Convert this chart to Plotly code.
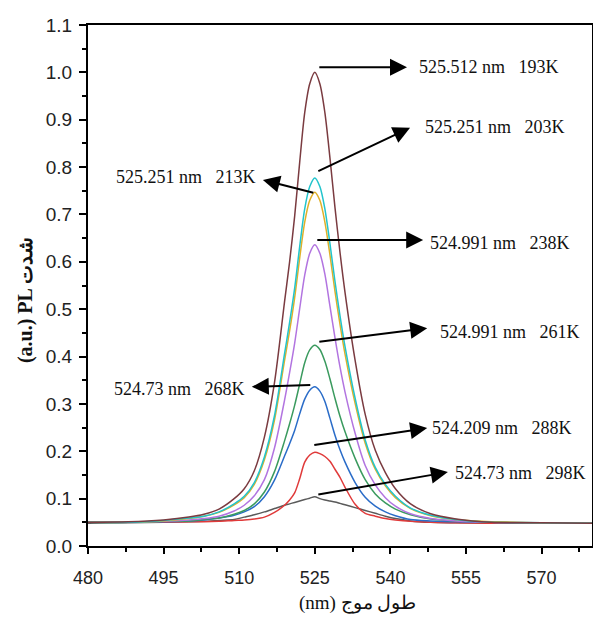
import plotly.graph_objects as go

# ---------------- data ----------------
wavelength = [480, 488, 495, 500, 503, 506, 509, 511, 513, 515, 517, 519, 520, 521, 522, 523, 524, 525,
              526, 527, 528, 529, 530, 531, 533, 535, 537, 539, 541, 544, 548, 553, 560, 570, 580]

pl_193K = [0.050, 0.051, 0.055, 0.061, 0.067, 0.078, 0.100, 0.121, 0.159, 0.230, 0.345, 0.516, 0.600, 0.696, 0.810, 0.915, 0.976, 1.000,
           0.976, 0.915, 0.820, 0.715, 0.620, 0.535, 0.392, 0.278, 0.202, 0.155, 0.121, 0.089, 0.068, 0.057, 0.050, 0.049, 0.048]
pl_203K = [0.050, 0.050, 0.054, 0.059, 0.063, 0.072, 0.089, 0.105, 0.134, 0.188, 0.275, 0.406, 0.472, 0.544, 0.632, 0.712, 0.759, 0.777,
           0.759, 0.712, 0.639, 0.559, 0.486, 0.421, 0.312, 0.224, 0.166, 0.130, 0.105, 0.080, 0.065, 0.056, 0.050, 0.049, 0.048]
pl_213K = [0.050, 0.050, 0.053, 0.058, 0.063, 0.071, 0.087, 0.102, 0.130, 0.182, 0.266, 0.392, 0.454, 0.524, 0.608, 0.684, 0.730, 0.747,
           0.730, 0.684, 0.615, 0.538, 0.468, 0.405, 0.301, 0.217, 0.162, 0.127, 0.102, 0.079, 0.064, 0.056, 0.051, 0.049, 0.048]
pl_238K = [0.050, 0.050, 0.052, 0.055, 0.058, 0.063, 0.074, 0.086, 0.106, 0.140, 0.207, 0.308, 0.366, 0.428, 0.501, 0.572, 0.618, 0.636,
           0.618, 0.574, 0.507, 0.440, 0.378, 0.325, 0.238, 0.170, 0.129, 0.102, 0.084, 0.068, 0.058, 0.053, 0.050, 0.049, 0.048]
pl_261K = [0.050, 0.050, 0.052, 0.053, 0.056, 0.059, 0.067, 0.075, 0.089, 0.114, 0.157, 0.222, 0.258, 0.297, 0.342, 0.387, 0.414, 0.424,
           0.415, 0.390, 0.353, 0.312, 0.274, 0.241, 0.185, 0.140, 0.110, 0.091, 0.078, 0.066, 0.057, 0.053, 0.051, 0.049, 0.048]
pl_268K = [0.050, 0.050, 0.051, 0.053, 0.055, 0.059, 0.065, 0.072, 0.083, 0.104, 0.139, 0.190, 0.216, 0.244, 0.279, 0.310, 0.329, 0.336,
           0.327, 0.305, 0.270, 0.234, 0.203, 0.177, 0.134, 0.103, 0.084, 0.072, 0.064, 0.056, 0.053, 0.051, 0.050, 0.049, 0.048]
pl_288K = [0.050, 0.050, 0.050, 0.051, 0.051, 0.052, 0.054, 0.055, 0.057, 0.061, 0.071, 0.086, 0.097, 0.112, 0.142, 0.177, 0.192, 0.198,
           0.195, 0.189, 0.179, 0.162, 0.145, 0.124, 0.088, 0.069, 0.063, 0.058, 0.055, 0.052, 0.050, 0.049, 0.048, 0.048, 0.048]
pl_298K = [0.048, 0.049, 0.050, 0.051, 0.052, 0.054, 0.056, 0.061, 0.066, 0.072, 0.079, 0.086, 0.089, 0.092, 0.095, 0.098, 0.101, 0.104,
           0.100, 0.097, 0.095, 0.093, 0.090, 0.087, 0.081, 0.075, 0.069, 0.063, 0.058, 0.053, 0.050, 0.049, 0.048, 0.048, 0.048]

temperatures = ["193K", "203K", "213K", "238K", "261K", "268K", "288K", "298K"]
peak_labels = ["525.512 nm", "525.251 nm", "525.251 nm", "524.991 nm", "524.991 nm", "524.73 nm", "524.209 nm", "524.73 nm"]
series = [pl_193K, pl_203K, pl_213K, pl_238K, pl_261K, pl_268K, pl_288K, pl_298K]

x_ticks = [480, 495, 510, 525, 540, 555, 570]
y_ticks = [0.0, 0.1, 0.2, 0.3, 0.4, 0.5, 0.6, 0.7, 0.8, 0.9, 1.0, 1.1]

x_title = "(nm) طول موج"
y_title = "(a.u.) PL شدت"

# ---------------- styles ----------------
colors = ["#7a3b40", "#22c4cc", "#e0b028", "#b274e0", "#3a9a5e", "#2a6cc8", "#e03a3a", "#5a5a5a"]

# arrow (tail x, tail y, head x, head y), text (x, y, anchor)
arrow_geom = [
    (525.6, 1.011, 543.3, 1.011, 545.3, 1.011, "left"),
    (525.4, 0.790, 543.9, 0.883, 546.5, 0.885, "left"),
    (525.0, 0.745, 514.7, 0.773, 513.7, 0.779, "right"),
    (525.2, 0.646, 546.5, 0.646, 547.5, 0.640, "left"),
    (525.6, 0.431, 547.3, 0.460, 549.4, 0.452, "left"),
    (524.4, 0.340, 512.5, 0.336, 511.5, 0.331, "right"),
    (524.6, 0.213, 547.3, 0.249, 547.9, 0.249, "left"),
    (525.4, 0.108, 551.4, 0.156, 552.4, 0.154, "left"),
]

fig = go.Figure()
draw_order = list(range(len(series)))[::-1]
for i in draw_order:
    fig.add_trace(go.Scatter(
        x=wavelength, y=series[i], mode="lines",
        line=dict(color=colors[i], width=1.5, shape="spline", smoothing=0.8),
        name=temperatures[i], showlegend=False, hoverinfo="skip", cliponaxis=True))

annotations = []
nb = "\u00a0"
for i, (tx, ty, hx, hy, lx, ly, anc) in enumerate(arrow_geom):
    annotations.append(dict(
        x=hx, y=hy, ax=tx, ay=ty, xref="x", yref="y", axref="x", ayref="y",
        text="", showarrow=True, arrowhead=2, arrowsize=1.7, arrowwidth=2,
        arrowcolor="black", standoff=0, startstandoff=0))
    annotations.append(dict(
        x=lx, y=ly, xref="x", yref="y", xanchor=anc, yanchor="middle",
        text=peak_labels[i] + nb * 3 + temperatures[i], showarrow=False,
        font=dict(family="Liberation Serif, Times New Roman, serif", size=18, color="#111")))

annotations.append(dict(
    x=-0.125, y=0.472, xref="paper", yref="paper", text="<b>" + y_title + "</b>", textangle=-90,
    showarrow=False, xanchor="center", yanchor="middle",
    font=dict(family="Liberation Serif, DejaVu Serif, serif", size=20, color="#111")))
annotations.append(dict(
    x=0.534, y=-0.109, xref="paper", yref="paper", text=x_title,
    showarrow=False, xanchor="center", yanchor="middle",
    font=dict(family="Liberation Serif, DejaVu Serif, serif", size=19, color="#111")))

fig.update_layout(
    width=593, height=619,
    margin=dict(l=88, r=1, t=25, b=73, autoexpand=False),
    paper_bgcolor="white", plot_bgcolor="white",
    annotations=annotations,
    xaxis=dict(range=[480, 580], tickvals=x_ticks, ticktext=[str(v) for v in x_ticks],
               automargin=False,
               showgrid=False, zeroline=False, showline=True, linecolor="black", linewidth=2,
               mirror=True, ticks="outside", ticklen=6, tickwidth=2, tickcolor="black",
               ticklabelstandoff=8,
               minor=dict(tick0=480, dtick=7.5, ticks="outside", ticklen=4, tickwidth=1.5, tickcolor="black"),
               tickfont=dict(family="Liberation Sans, Arial, sans-serif", size=18, color="#222")),
    yaxis=dict(range=[0, 1.1], tickvals=y_ticks, ticktext=[f"{v:.1f}" for v in y_ticks],
               automargin=False,
               showgrid=False, zeroline=False, showline=True, linecolor="black", linewidth=2,
               mirror=True, ticks="outside", ticklen=7, tickwidth=2, tickcolor="black",
               ticklabelstandoff=3,
               minor=dict(tick0=0, dtick=0.05, ticks="outside", ticklen=4, tickwidth=1.5, tickcolor="black"),
               tickfont=dict(family="Liberation Sans, Arial, sans-serif", size=19, color="#222")),
)

fig.write_html("out.html",
               config={"displayModeBar": False},
               post_script="document.body.style.margin='0';document.body.style.padding='0';"
                           "document.documentElement.style.overflow='hidden';")
